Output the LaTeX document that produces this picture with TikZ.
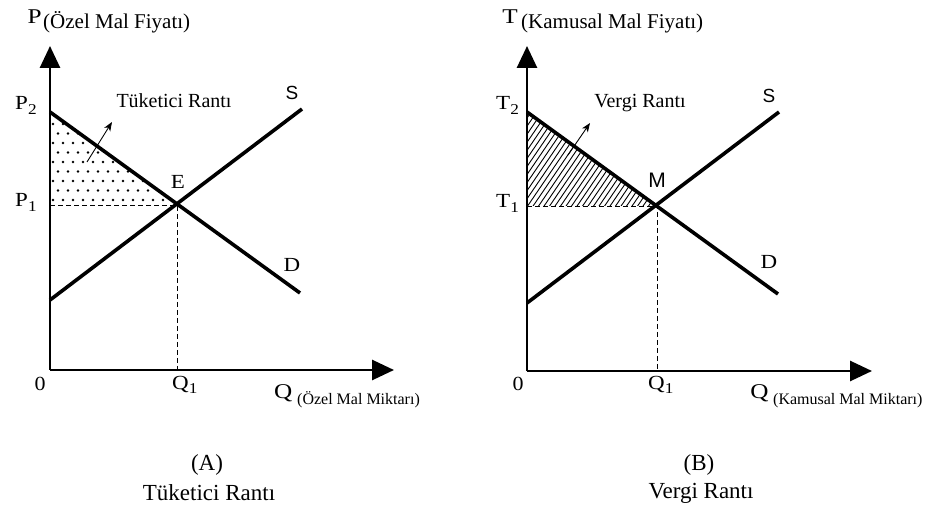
\documentclass[tikz,border=0pt]{standalone}
\usepackage{fontspec}
\setmainfont{Liberation Serif}
\newfontfamily\sansf{Liberation Sans}
\usetikzlibrary{arrows.meta}
\newcommand{\fs}[1]{\fontsize{#1}{#1}\selectfont}
\newcommand{\subx}[1]{\raisebox{-0.22em}{\fs{15}#1}}
\begin{document}
\begin{tikzpicture}[x=1pt,y=-1pt,
  axisline/.style={line width=2.8pt,-{Triangle[length=22pt,width=20pt]}},
  curve/.style={line width=3.6pt},
  guide/.style={line width=0.9pt,dash pattern=on 5pt off 3pt},
  pointer/.style={line width=0.9pt,-{Stealth[length=9pt,width=7pt,inset=2.5pt]}},
  lbl/.style={inner sep=0pt,font=\fs{20},xscale=1.15},
  axl/.style={inner sep=0pt,font=\fs{21},xscale=1.2},
  zero/.style={inner sep=0pt,font=\fs{20},xscale=1.1,anchor=base},
  small/.style={inner sep=0pt,font=\fs{16}},
  desc/.style={inner sep=0pt,font=\fs{21}},
  rant/.style={inner sep=0pt,font=\fs{20}},
  big/.style={inner sep=0pt,font=\fs{23}}]
\useasboundingbox (0,0) rectangle (926,510);

% ---------------- Panel A ----------------
\coordinate (oA) at (50,370);
\coordinate (yA) at (50,46);
\coordinate (xA) at (394,370);
\coordinate (p2A) at (50,112);
\coordinate (p1A) at (50,205);
\coordinate (eA) at (177,205);
\coordinate (q1A) at (177,370);
\coordinate (dA) at (300,293);
\coordinate (s0A) at (50,300);
\coordinate (sA) at (302,109);
\coordinate (arA0) at (87,162);
\coordinate (arA1) at (112,122);

\begin{scope}
  \clip (p2A) -- (eA) -- (p1A) -- cycle;
  \foreach \r in {0,...,10} {
    \foreach \c in {0,...,13} {
      \fill ({53+10*\c+mod(\r,2)*5},{200-9.5*\r}) circle (1.45pt);
    }
  }
\end{scope}

\draw[guide] (p1A) -- (eA) -- (q1A);
\draw[curve] (p2A) -- (dA);
\draw[curve] (s0A) -- (sA);
\draw[axisline] (oA) -- (yA);
\draw[axisline] (oA) -- (xA);
\draw[pointer] (arA0) -- (arA1);

\node[axl,anchor=base east] (PA) at (42,24) {P};
\node[desc,anchor=base west] (PdA) at (43,29) {(Özel Mal Fiyatı)};
\node[lbl,anchor=base west] (P2A) at (15,110) {P\subx{2}};
\node[lbl,anchor=base west] (P1A) at (15,207) {P\subx{1}};
\node[rant] (trA) at (174,101) {Tüketici Rantı};
\node[inner sep=0pt,font=\sansf\fs{19}] (SA) at (292,93) {S};
\node[lbl] (EA) at (178,182) {E};
\node[lbl] (DA) at (292,265) {D};
\node[zero] (0A) at (40,390) {0};
\node[lbl,anchor=base west] (Q1A) at (172,389) {Q\subx{1}};
\node[axl,anchor=base west] (QA) at (274,398) {Q};
\node[small,anchor=base west] (QdA) at (297,404) {(Özel Mal Miktarı)};
\node[big] (capA1) at (207,465) {(A)};
\node[big] (capA2) at (209,493) {Tüketici Rantı};

% ---------------- Panel B ----------------
\coordinate (oB) at (527,371);
\coordinate (yB) at (527,46);
\coordinate (xB) at (872,371);
\coordinate (t2B) at (527,112);
\coordinate (t1B) at (527,206);
\coordinate (mB) at (657,206);
\coordinate (q1B) at (657,371);
\coordinate (dB) at (778,294);
\coordinate (s0B) at (527,303);
\coordinate (sB) at (779,112);
\coordinate (arB0) at (568,155);
\coordinate (arB1) at (590,123);

\begin{scope}
  \clip (t2B) -- (mB) -- (t1B) -- cycle;
  \foreach \i in {0,...,60} {
    \draw[line width=0.9pt] ({430+5.5*\i},212) -- ++(75,-110);
  }
\end{scope}

\draw[guide] (t1B) -- (mB) -- (q1B);
\draw[curve] (t2B) -- (dB);
\draw[curve] (s0B) -- (sB);
\draw[axisline] (oB) -- (yB);
\draw[axisline] (oB) -- (xB);
\draw[pointer] (arB0) -- (arB1);

\node[axl,anchor=base east] (TB) at (518,24) {T};
\node[desc,anchor=base west] (TdB) at (521,29) {(Kamusal Mal Fiyatı)};
\node[lbl,anchor=base west] (T2B) at (496,110) {T\subx{2}};
\node[lbl,anchor=base west] (T1B) at (496,208) {T\subx{1}};
\node[rant] (vrB) at (640,103) {Vergi Rantı};
\node[inner sep=0pt,font=\sansf\fs{19}] (SB) at (769,96) {S};
\node[inner sep=0pt,font=\sansf\fs{21}] (MB) at (657,180) {M};
\node[lbl] (DB) at (769,262) {D};
\node[zero] (0B) at (518,390) {0};
\node[lbl,anchor=base west] (Q1B) at (648,389) {Q\subx{1}};
\node[axl,anchor=base west] (QB) at (750,398) {Q};
\node[small,anchor=base west] (QdB) at (773,404) {(Kamusal Mal Miktarı)};
\node[big] (capB1) at (699,465) {(B)};
\node[big] (capB2) at (701,493) {Vergi Rantı};
\end{tikzpicture}
\end{document}
